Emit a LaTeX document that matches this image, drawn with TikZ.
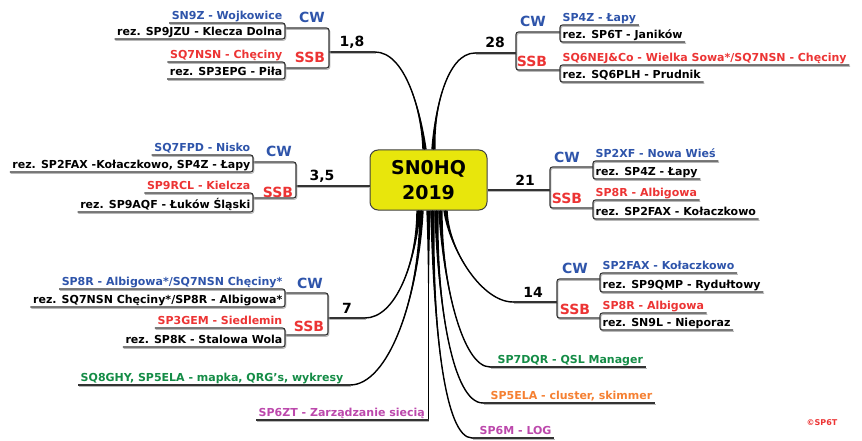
\documentclass[tikz,border=0pt]{standalone}
\usepackage{fontspec}
\setmainfont{DejaVu Sans}
\usetikzlibrary{positioning}
\definecolor{cwblue}{RGB}{46,84,170}
\definecolor{ssbred}{RGB}{236,52,52}
\definecolor{infogreen}{RGB}{20,140,70}
\definecolor{infoorange}{RGB}{245,128,50}
\definecolor{infopurple}{RGB}{188,72,172}
\definecolor{hubyellow}{RGB}{232,230,12}
\newcommand{\twig}[4]{%
  \fill (#1) .. controls (#2) and (#3) .. ([xshift=-2.2pt]#4)
    -- ([xshift=2.2pt]#4) .. controls (#3) and (#2) .. (#1) -- cycle;
  \draw[line width=1.4pt] (#1) .. controls (#2) and (#3) .. (#4);
}
\tikzset{
  leaf/.style={font=\bfseries\fontsize{11}{13}\selectfont, inner xsep=2.5pt,
    inner ysep=3.3pt, text depth=0pt},
  leafl/.style={leaf, anchor=south east},
  leafr/.style={leaf, anchor=south west},
  line/.style={draw=black!80, line width=1.1pt, rounded corners=2.5pt,
    preaction={draw=black!28, line width=1.1pt,
      transform canvas={shift={(0.8pt,-1.3pt)}}}},
  mode/.style={font=\bfseries\fontsize{14}{16}\selectfont, anchor=base, inner sep=0pt},
  band/.style={font=\bfseries\fontsize{14}{16}\selectfont, anchor=base, inner sep=0pt},
  hub/.style={draw=black!75, line width=1pt, fill=hubyellow, rounded corners=8pt,
    minimum width=117pt, minimum height=60pt, align=center,
    font=\bfseries\fontsize{19}{25}\selectfont},
}

\begin{document}
\begin{tikzpicture}[x=1pt, y=-1pt]
  \useasboundingbox (0,0) rectangle (862,441);
  \node[hub] (hub) at (428.5,180) {SN0HQ\\2019};

  % 1,8
  \coordinate (h18) at ([xshift=-4pt]hub.north);
  \coordinate (e18) at (375,52);
  \coordinate (j18) at (329,52);
  \twig{e18}{405,52}{421,110}{h18}
  \draw[line] (e18) -- (j18);
  \node[band] (n18) at (352,47) {1,8};
  \node[mode, cwblue] (cw18) at (312,23) {CW};
  \node[mode, ssbred] (ssb18) at (310,63) {SSB};
  \coordinate (k18c) at (285,28);
  \coordinate (k18s) at (285,68);
  \draw[line] (k18c) -- (k18c -| j18) -- (k18s -| j18) -- (k18s);
  \node[leafl, cwblue] (wojk) at (285,23) {SN9Z - Wojkowice};
  \node[leafl] (klecza) at (285,39) {rez. SP9JZU - Klecza Dolna};
  \node[leafl, ssbred] (checiny) at (285,62) {SQ7NSN - Chęciny};
  \node[leafl] (pila) at (285,79) {rez. SP3EPG - Piła};
  \draw[line] (wojk.south west) -- (wojk.south east) -- (klecza.south east) -- (klecza.south west);
  \draw[line] (checiny.south west) -- (checiny.south east) -- (pila.south east) -- (pila.south west);

  % 28
  \coordinate (h28) at ([xshift=5pt]hub.north);
  \coordinate (e28) at (475,53);
  \coordinate (j28) at (516,53);
  \twig{e28}{447,53}{434,110}{h28}
  \draw[line] (e28) -- (j28);
  \node[band] (n28) at (495,48) {28};
  \node[mode, cwblue] (cw28) at (533,27) {CW};
  \node[mode, ssbred] (ssb28) at (532,67) {SSB};
  \coordinate (k28c) at (560,32);
  \coordinate (k28s) at (560,70);
  \draw[line] (k28c) -- (k28c -| j28) -- (k28s -| j28) -- (k28s);
  \node[leafr, cwblue] (lapy) at (560,25) {SP4Z - Łapy};
  \node[leafr] (janikow) at (560,42) {rez. SP6T - Janików};
  \node[leafr, ssbred] (sowa) at (560,65) {SQ6NEJ\&Co - Wielka Sowa*/SQ7NSN - Chęciny};
  \node[leafr] (prudnik) at (560,82) {rez. SQ6PLH - Prudnik};
  \draw[line] (lapy.south east) -- (lapy.south west) -- (janikow.south west) -- (janikow.south east);
  \draw[line] (sowa.south east) -- (sowa.south west) -- (prudnik.south west) -- (prudnik.south east);

  % 3,5
  \coordinate (j35) at (296,186);
  \draw[line] (j35 -| hub.west) -- (j35);
  \node[band] (n35) at (322,180) {3,5};
  \node[mode, cwblue] (cw35) at (279,157) {CW};
  \node[mode, ssbred] (ssb35) at (278,197) {SSB};
  \coordinate (k35c) at (253,162);
  \coordinate (k35s) at (253,198);
  \draw[line] (k35c) -- (k35c -| j35) -- (k35s -| j35) -- (k35s);
  \node[leafl, cwblue] (nisko) at (253,155) {SQ7FPD - Nisko};
  \node[leafl] (kolacz) at (253,172) {rez. SP2FAX -Kołaczkowo, SP4Z - Łapy};
  \node[leafl, ssbred] (kielcza) at (253,193) {SP9RCL - Kielcza};
  \node[leafl] (lukow) at (253,212) {rez. SP9AQF - Łuków Śląski};
  \draw[line] (nisko.south west) -- (nisko.south east) -- (kolacz.south east) -- (kolacz.south west);
  \draw[line] (kielcza.south west) -- (kielcza.south east) -- (lukow.south east) -- (lukow.south west);

  % 21
  \coordinate (j21) at (550,190);
  \draw[line] (j21 -| hub.east) -- (j21);
  \node[band] (n21) at (525,185) {21};
  \node[mode, cwblue] (cw21) at (567,162) {CW};
  \node[mode, ssbred] (ssb21) at (567,203) {SSB};
  \coordinate (k21c) at (593,167);
  \coordinate (k21s) at (593,208);
  \draw[line] (k21c) -- (k21c -| j21) -- (k21s -| j21) -- (k21s);
  \node[leafr, cwblue] (nowa) at (593,161) {SP2XF - Nowa Wieś};
  \node[leafr] (lapyb) at (593,179) {rez. SP4Z - Łapy};
  \node[leafr, ssbred] (albigb) at (593,200) {SP8R - Albigowa};
  \node[leafr] (kolaczb) at (593,219) {rez. SP2FAX - Kołaczkowo};
  \draw[line] (nowa.south east) -- (nowa.south west) -- (lapyb.south west) -- (lapyb.south east);
  \draw[line] (albigb.south east) -- (albigb.south west) -- (kolaczb.south west) -- (kolaczb.south east);

  % 7
  \coordinate (h7) at ([xshift=-10pt]hub.south);
  \coordinate (e7) at (365,318);
  \coordinate (j7) at (328,318);
  \twig{e7}{395,318}{416,265}{h7}
  \draw[line] (e7) -- (j7);
  \node[band] (n7) at (347,313) {7};
  \node[mode, cwblue] (cw7) at (310,288) {CW};
  \node[mode, ssbred] (ssb7) at (309,331) {SSB};
  \coordinate (k7c) at (285,293);
  \coordinate (k7s) at (285,335);
  \draw[line] (k7c) -- (k7c -| j7) -- (k7s -| j7) -- (k7s);
  \node[leafl, cwblue] (albig) at (285,289) {SP8R - Albigowa*/SQ7NSN Chęciny*};
  \node[leafl] (chec) at (285,307) {rez. SQ7NSN Chęciny*/SP8R - Albigowa*};
  \node[leafl, ssbred] (siedl) at (285,328) {SP3GEM - Siedlemin};
  \node[leafl] (stalowa) at (285,347) {rez. SP8K - Stalowa Wola};
  \draw[line] (albig.south west) -- (albig.south east) -- (chec.south east) -- (chec.south west);
  \draw[line] (siedl.south west) -- (siedl.south east) -- (stalowa.south east) -- (stalowa.south west);

  % 14
  \coordinate (h14) at ([xshift=17pt]hub.south);
  \coordinate (e14) at (513,302);
  \coordinate (j14) at (557,302);
  \twig{e14}{482,302}{449,250}{h14}
  \draw[line] (e14) -- (j14);
  \node[band] (n14) at (533,297) {14};
  \node[mode, cwblue] (cw14) at (575,273) {CW};
  \node[mode, ssbred] (ssb14) at (575,314) {SSB};
  \coordinate (k14c) at (600,279);
  \coordinate (k14s) at (600,318);
  \draw[line] (k14c) -- (k14c -| j14) -- (k14s -| j14) -- (k14s);
  \node[leafr, cwblue] (kolaczc) at (600,273) {SP2FAX - Kołaczkowo};
  \node[leafr] (rydul) at (600,292) {rez. SP9QMP - Rydułtowy};
  \node[leafr, ssbred] (albigc) at (600,313) {SP8R - Albigowa};
  \node[leafr] (niepo) at (600,330) {rez. SN9L - Nieporaz};
  \draw[line] (kolaczc.south east) -- (kolaczc.south west) -- (rydul.south west) -- (rydul.south east);
  \draw[line] (albigc.south east) -- (albigc.south west) -- (niepo.south west) -- (niepo.south east);

  % team
  \coordinate (hm) at ([xshift=-7pt]hub.south);
  \coordinate (em) at (350,385);
  \node[leafl, infogreen] (mapka) at (346,385) {SQ8GHY, SP5ELA - mapka, QRG's, wykresy};
  \twig{em}{388,385}{419,300}{hm}
  \draw[line] (mapka.south west) -- (em);

  \coordinate (hz) at (hub.south);
  \coordinate (ez) at (hub.south |- 0,420);
  \node[leafl, infopurple] (siec) at ([xshift=-1pt]ez) {SP6ZT - Zarządzanie siecią};
  \twig{ez}{428.5,350}{428.5,260}{hz}
  \draw[line] (siec.south west) -- (ez);

  \coordinate (hq) at ([xshift=12pt]hub.south);
  \coordinate (eq) at (490,367);
  \node[leafr, infogreen] (qsl) at (495,367) {SP7DQR - QSL Manager};
  \twig{eq}{462,367}{442,280}{hq}
  \draw[line] (eq) -- (qsl.south east);

  \coordinate (hc) at ([xshift=8pt]hub.south);
  \coordinate (ec) at (483,403);
  \node[leafr, infoorange] (cluster) at (488,403) {SP5ELA - cluster, skimmer};
  \twig{ec}{452,403}{437,300}{hc}
  \draw[line] (ec) -- (cluster.south east);

  \coordinate (hl) at ([xshift=4pt]hub.south);
  \coordinate (el) at (472,438);
  \node[leafr, infopurple] (log) at (477,438) {SP6M - LOG};
  \twig{el}{445,438}{433,330}{hl}
  \draw[line] (el) -- (log.south east);

  \node[font=\bfseries\fontsize{8}{9}\selectfont, ssbred] (sign) at (822,423) {©SP6T};
\end{tikzpicture}
\end{document}
